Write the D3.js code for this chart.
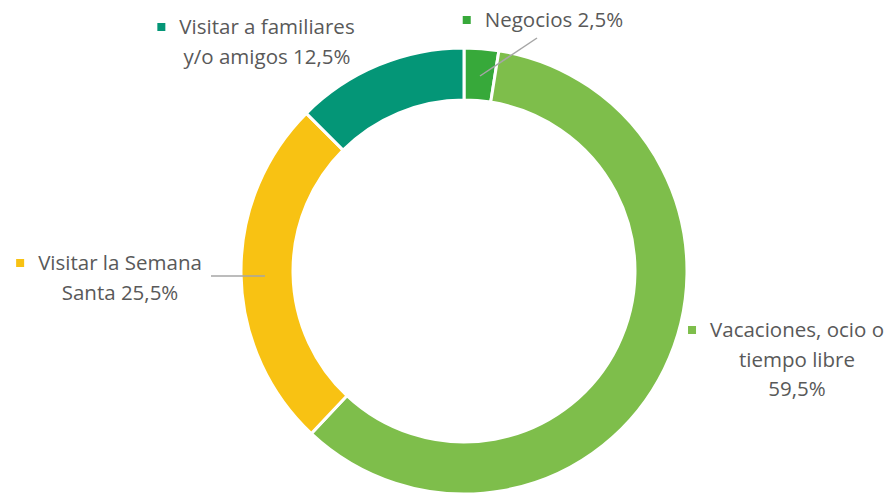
<!DOCTYPE html>
<html>
<head>
<meta charset="utf-8">
<script src="https://cdn.jsdelivr.net/npm/d3@7"></script>
<style>
  body { margin: 0; background: #fff; }
  svg text { font-family: "Open Sans", "Noto Sans", sans-serif; fill: #595959; }
</style>
</head>
<body>
<div id="chart"></div>
<script>
var categories = ["Negocios", "Vacaciones, ocio o tiempo libre", "Visitar la Semana Santa", "Visitar a familiares y/o amigos"];
var values = [2.5, 59.5, 25.5, 12.5];
var colors = ["#37a93a", "#7ebe4b", "#f8c213", "#049677"];
// label text lines, as wrapped in the picture
var labelLines = [
  ["Negocios 2,5%"],
  ["Vacaciones, ocio o", "tiempo libre", "59,5%"],
  ["Visitar la Semana", "Santa 25,5%"],
  ["Visitar a familiares", "y/o amigos 12,5%"]
];

var width = 893, height = 494;
var cx = 464, cy = 271, outerR = 223, innerR = 171;

var svg = d3.select("#chart").append("svg")
    .attr("width", width)
    .attr("height", height);

var pie = d3.pie().sort(null).value(function(d) { return d; });
var arc = d3.arc().innerRadius(innerR).outerRadius(outerR);

var g = svg.append("g").attr("transform", "translate(" + cx + "," + cy + ")");

g.selectAll("path")
  .data(pie(values))
  .enter().append("path")
    .attr("d", arc)
    .attr("fill", function(d, i) { return colors[i]; })
    .attr("stroke", "#fff")
    .attr("stroke-width", 3);

// label blocks: centre x, first baseline y
var labelPos = [
  {x: 554, y: 27},
  {x: 797, y: 337},
  {x: 120, y: 270},
  {x: 267, y: 34}
];

var lineH = 29.5;
labelPos.forEach(function(p, i) {
  var lg = svg.append("g");
  var t = lg.append("text")
    .attr("text-anchor", "middle")
    .style("font-size", "20.5px");
  labelLines[i].forEach(function(s, j) {
    t.append("tspan")
      .attr("x", p.x)
      .attr("y", p.y + j * lineH)
      .text(s);
  });
  var bb = t.select("tspan").node().getBBox();
  lg.append("rect")
    .attr("x", bb.x - 22)
    .attr("y", p.y - 11)
    .attr("width", 8)
    .attr("height", 8)
    .attr("fill", colors[i]);
});

// leader lines
var leaders = [
  [[537, 38], [480, 76]],
  [[211, 276], [265, 276]]
];
leaders.forEach(function(l) {
  svg.append("line")
    .attr("x1", l[0][0]).attr("y1", l[0][1])
    .attr("x2", l[1][0]).attr("y2", l[1][1])
    .attr("stroke", "#a6a6a6")
    .attr("stroke-width", 1.5);
});
</script>
</body>
</html>
